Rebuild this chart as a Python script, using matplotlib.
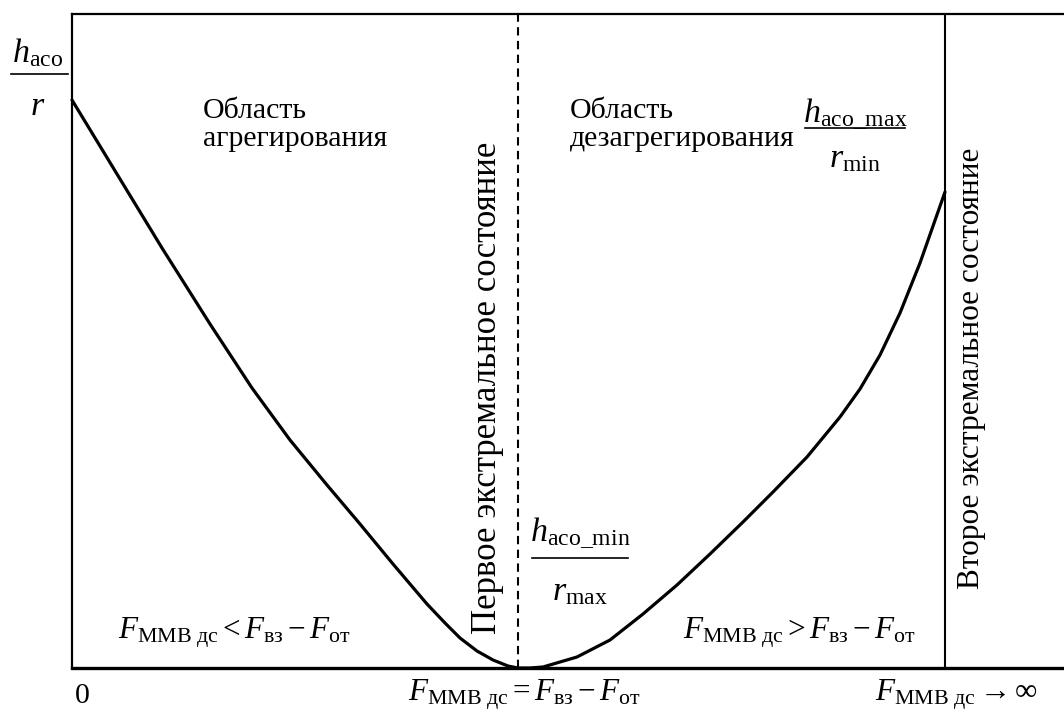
import numpy as np
import matplotlib
matplotlib.use("Agg")
import matplotlib.pyplot as plt

plt.rcParams['font.family'] = ['Liberation Serif', 'DejaVu Serif']
plt.rcParams['mathtext.fontset'] = 'custom'
plt.rcParams['mathtext.rm'] = 'Liberation Serif'
plt.rcParams['mathtext.it'] = 'Liberation Serif:italic'

# curve h_aco/r versus F (arbitrary units)
x_left = [0, 48, 90, 138, 180, 218, 255, 288, 321, 355, 373, 388, 405, 421, 436, 446]
y_left = [568, 489, 420, 344, 280, 228, 183, 144, 104, 64, 45, 30, 17, 8, 2, 0]
x_right = [446, 458, 471, 488, 505, 538, 571, 605, 638, 671, 701, 735, 768, 788, 808, 828, 848, 873]
y_right = [0, 0, 1, 6, 11, 28, 54, 83, 114, 146, 176, 211, 251, 279, 313, 355, 405, 476]

x_first = 446   # first extremal state
x_second = 873  # second extremal state

region_left = "Область\nагрегирования"
region_right = "Область\nдезагрегирования"
state_first = "Первое экстремальное состояние"
state_second = "Второе экстремальное состояние"

F = r"F_{\mathrm{ММВ\ дс}}"
cond_less = "$" + F + r" < F_{\mathrm{вз}} - F_{\mathrm{от}}$"
cond_more = "$" + F + r" > F_{\mathrm{вз}} - F_{\mathrm{от}}$"
cond_eq = "$" + F + r" = F_{\mathrm{вз}} - F_{\mathrm{от}}$"
cond_inf = "$" + F + r" \rightarrow \infty$"

fig = plt.figure(figsize=(10.64, 7.2), dpi=100)
ax = fig.add_axes([72 / 1064, 52 / 720, 992 / 1064, 654 / 720])
ax.set_xlim(0, 992)
ax.set_ylim(0, 654)
ax.set_xticks([])
ax.set_yticks([])
ax.spines['right'].set_visible(False)
ax.spines['top'].set_linewidth(1.6)
ax.spines['left'].set_linewidth(1.6)
ax.spines['bottom'].set_linewidth(2.4)

x = np.array(x_left + x_right[1:])
y = np.array(y_left + y_right[1:])
ax.plot(x, y, color='black', lw=2.3, solid_joinstyle='round',
        solid_capstyle='round', clip_on=False)

ax.axvline(x_first, color='black', lw=1.5, linestyle=(0, (4, 2.6)))
ax.axvline(x_second, color='black', lw=1.5)

fs = 21.5
fm = 22.5

def fraction(xc, y_num, y_bar, y_den, num, den, x0, x1, size=fs + 3):
    ax.text(xc, y_num, num, fontsize=size, ha='center', va='baseline', clip_on=False)
    ax.plot([x0, x1], [y_bar, y_bar], color='black', lw=1.2, clip_on=False)
    ax.text(xc, y_den, den, fontsize=size, ha='center', va='baseline', clip_on=False)

# y-axis label
fraction(-34, 606, 594, 553, r"$h_{\mathrm{aco}}$", r"$r$", -61, -4)
# maximum and minimum values
fraction(783, 546, 540, 501, r"$h_{\mathrm{aco\_max}}$", r"$r_{\mathrm{min}}$", 733, 833)
fraction(508, 127, 110, 68, r"$h_{\mathrm{aco\_min}}$", r"$r_{\mathrm{max}}$", 460, 556)

ax.text(131, 570, region_left, fontsize=fs, ha='left', va='top', linespacing=1.12)
ax.text(498, 570, region_right, fontsize=fs, ha='left', va='top', linespacing=1.12)

ax.text(416, 280, state_first, fontsize=25, rotation=90, ha='center', va='center')
ax.text(900, 300, state_second, fontsize=22.5, rotation=90, ha='center', va='center')

ax.text(46, 35, cond_less, fontsize=fm, ha='left', va='center')
ax.text(611, 35, cond_more, fontsize=fm, ha='left', va='center')

ax.text(10, -28, "0", fontsize=fs, ha='center', va='center', clip_on=False)
ax.text(452, -27, cond_eq, fontsize=fm, ha='center', va='center', clip_on=False)
ax.text(803, -27, cond_inf, fontsize=fm, ha='left', va='center', clip_on=False)

fig.savefig("out.png", dpi=100)
